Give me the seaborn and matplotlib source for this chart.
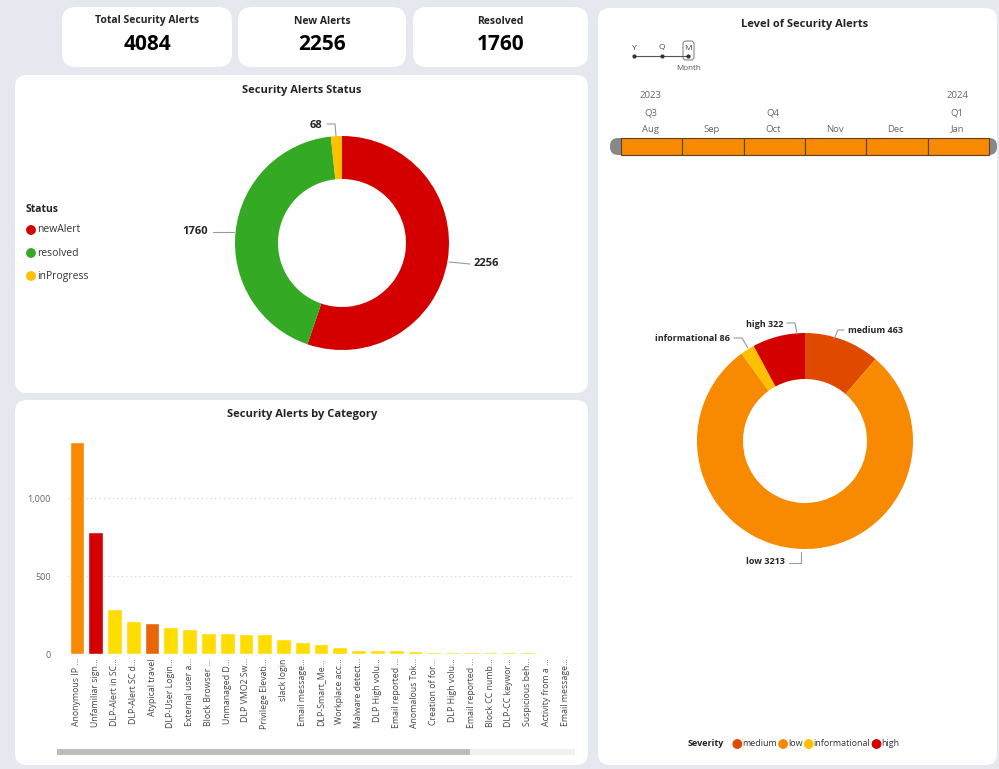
import numpy as np
import pandas as pd
import matplotlib
matplotlib.use("Agg")
import matplotlib.pyplot as plt
from matplotlib.patches import FancyBboxPatch, Rectangle, Circle
import seaborn as sns

sns.set_theme(style="white")
plt.rcParams['font.family'] = ['Open Sans', 'DejaVu Sans']

# ---------------- data ----------------
kpi_titles = ["Total Security Alerts", "New Alerts", "Resolved"]
kpi_values = [4084, 2256, 1760]

status_labels = ["newAlert", "resolved", "inProgress"]
status_values = [2256, 1760, 68]
status_colors = ["#D40000", "#34A924", "#FFC000"]

severity_labels = ["medium", "low", "informational", "high"]
severity_values = [463, 3213, 86, 322]
severity_colors = ["#E04A00", "#F78A00", "#FFC000", "#D40000"]

category_labels = ["Anonymous IP ...", "Unfamiliar sign...", "DLP-Alert in SC...", "DLP-Alert SC d...",
                   "Atypical travel", "DLP-User Login...", "External user a...", "Block Browser ...",
                   "Unmanaged D...", "DLP VMO2 Sw...", "Privilege Elevati...", "slack login",
                   "Email message...", "DLP-Smart_Me...", "Workplace acc...", "Malware detect...",
                   "DLP High volu...", "Email reported ...", "Anomalous Tok...", "Creation of for...",
                   "DLP High volu...", "Email reported ...", "Block CC numb...", "DLP-CC keywor...",
                   "Suspicious beh...", "Activity from a ...", "Email message..."]
category_counts = [1358, 782, 290, 211, 200, 173, 158, 136, 136, 128, 126, 98,
                   75, 62, 47, 28, 23, 23, 19, 13, 12, 12, 11, 10, 10, 9, 9]
category_colors = ["#F78A00", "#D40000", "#FFDD00", "#FFDD00", "#E8650A"] + ["#FFDD00"] * 22
y_ticks = [0, 500, 1000]
y_tick_labels = ["0", "500", "1,000"]

timeline_months = ["Aug", "Sep", "Oct", "Nov", "Dec", "Jan"]
timeline_quarters = ["Q3", "", "Q4", "", "", "Q1"]
timeline_years = ["2023", "", "", "", "", "2024"]

# ---------------- figure ----------------
W, H = 999, 769
fig = plt.figure(figsize=(W / 100, H / 100), dpi=100)
fig.patch.set_facecolor("#E5E8EF")

bg = fig.add_axes([0, 0, 1, 1])
bg.set_xlim(0, W)
bg.set_ylim(H, 0)
bg.axis("off")
bg.set_zorder(0)


def panel(x0, y0, x1, y1, r=12):
    bg.add_patch(FancyBboxPatch((x0, y0), x1 - x0, y1 - y0,
                                boxstyle=f"round,pad=0,rounding_size={r}",
                                fc="white", ec="none"))


def px_axes(x0, y0, x1, y1):
    return fig.add_axes([x0 / W, 1 - y1 / H, (x1 - x0) / W, (y1 - y0) / H])


DARK = "#252423"
GREY = "#666666"

# KPI cards
kpi_boxes = [(62, 7, 232, 67), (238, 7, 406, 67), (413, 7, 588, 67)]
for (x0, y0, x1, y1), t, v in zip(kpi_boxes, kpi_titles, kpi_values):
    panel(x0, y0, x1, y1, r=14)
    cx = (x0 + x1) / 2
    bg.text(cx, 21, t, ha="center", va="center", fontsize=7.5, fontweight="bold", color=DARK)
    bg.text(cx, 45, str(v), ha="center", va="center", fontsize=15, fontweight="bold", color="black")

# main panels
panel(15, 75, 588, 393)
panel(15, 400, 588, 765)
panel(598, 8, 997, 765)

# ---------------- Status donut ----------------
bg.text(302, 90, "Security Alerts Status", ha="center", va="center", fontsize=8,
        fontweight="bold", color=DARK)
bg.text(26, 209, "Status", ha="left", va="center", fontsize=7.5, fontweight="bold", color=DARK)
for i, (lab, col) in enumerate(zip(status_labels, status_colors)):
    yy = 230 + i * 23
    bg.add_patch(Circle((31, yy), 4.2, color=col))
    bg.text(37, yy, lab, ha="left", va="center", fontsize=7.5, color="#333333")

ax1 = px_axes(192, 93, 492, 393)
ax1.pie(status_values, colors=status_colors, startangle=90, counterclock=False,
        radius=1.07, wedgeprops=dict(width=0.43, edgecolor="none"))
ax1.set_xlim(-1.5, 1.5)
ax1.set_ylim(-1.5, 1.5)
ax1.set_aspect("equal")
ax1.axis("off")


def to1(x, y):  # pixel -> ax1 data (center 342,243, 100px/unit)
    return (x - 342) / 100, (243 - y) / 100


lc = "#999999"
for (lx, ly, ha), pts, val in zip(
        [(474, 264, "left"), (208, 231, "right"), (322, 125, "right")],
        [[(449, 262), (470, 264)], [(213, 232), (234, 232)], [(327, 124), (335, 124), (336, 136)]],
        status_values):
    xs, ys = zip(*[to1(*p) for p in pts])
    ax1.plot(xs, ys, color=lc, lw=0.8)
    tx, ty = to1(lx, ly)
    ax1.text(tx, ty, str(val), ha=ha, va="center", fontsize=8, fontweight="bold", color=DARK)

# ---------------- Category bars ----------------
bg.text(302, 414, "Security Alerts by Category", ha="center", va="center", fontsize=8,
        fontweight="bold", color=DARK)
ax2 = px_axes(67.6, 430, 574.5, 654)
df = pd.DataFrame({"pos": list(range(len(category_counts))), "count": category_counts})
sns.barplot(data=df, x="pos", y="count", hue="pos", palette=category_colors, legend=False,
            ax=ax2, width=0.79, saturation=1, dodge=False)
ax2.set_xlim(-0.5, len(category_counts) - 0.5)
ax2.set_ylim(0, 1436)
ax2.set_xticks(range(len(category_labels)))
ax2.set_xticklabels(category_labels, rotation=90, fontsize=6.3, color="#444444")
ax2.set_yticks(y_ticks)
ax2.set_yticklabels(y_tick_labels, fontsize=6.5, color=GREY)
ax2.tick_params(axis="both", length=0, pad=3)
ax2.tick_params(axis="y", pad=12)
ax2.set_xlabel("")
ax2.set_ylabel("")
for s in ax2.spines.values():
    s.set_visible(False)
ax2.set_facecolor("none")
for yv in y_ticks:
    ax2.axhline(yv, color="#CCCCCC", lw=0.8, ls=(0, (1, 3)), zorder=0)
# scrollbar
bg.add_patch(Rectangle((57, 749), 518, 6, fc="#F0F0F0", ec="none"))
bg.add_patch(Rectangle((57, 749), 413, 6, fc="#BDBDBD", ec="none"))

# ---------------- Right panel ----------------
bg.text(805, 25, "Level of Security Alerts", ha="center", va="center", fontsize=8,
        fontweight="bold", color=DARK)
# hierarchy icon
bg.plot([634, 688], [56, 56], color="#555555", lw=0.8)
for xx, l in zip([634, 662, 688], ["Y", "Q", "M"]):
    bg.plot(xx, 56, "o", ms=2, color="#333333")
    bg.text(xx, 48, l, ha="center", va="center", fontsize=6, color="#444444")
bg.add_patch(FancyBboxPatch((683, 41), 11, 19, boxstyle="round,pad=0,rounding_size=3",
                            fc="none", ec="#888888", lw=0.8))
bg.text(689, 69, "Month", ha="center", va="center", fontsize=5.8, color="#555555")

# timeline slider
seg_x0, seg_w = 621, 61.3
bg.add_patch(FancyBboxPatch((610, 138), 387, 17, boxstyle="round,pad=0,rounding_size=8",
                            fc="#888888", ec="none"))
for i, (m, q, yv) in enumerate(zip(timeline_months, timeline_quarters, timeline_years)):
    x = seg_x0 + i * seg_w
    bg.add_patch(Rectangle((x, 138), seg_w, 17, fc="#F78A00", ec="#5A4030", lw=0.8))
    cx = x + seg_w / 2 - 1
    bg.text(cx, 129, m, ha="center", va="center", fontsize=6.8, color=GREY)
    if q:
        bg.text(cx, 113, q, ha="center", va="center", fontsize=6.8, color=GREY)
    if yv:
        bg.text(cx, 96, yv, ha="center", va="center", fontsize=6.8, color=GREY)

# severity donut
ax3 = px_axes(655, 291, 955, 591)
ax3.pie(severity_values, colors=severity_colors, startangle=90, counterclock=False,
        radius=1.08, wedgeprops=dict(width=0.46, edgecolor="none"))
ax3.set_xlim(-1.5, 1.5)
ax3.set_ylim(-1.5, 1.5)
ax3.set_aspect("equal")
ax3.axis("off")


def to3(x, y):
    return (x - 805) / 100, (441 - y) / 100


sev_label_pos = [(848, 330, "left"), (785, 562, "right"), (730, 338, "right"), (783, 324, "right")]
sev_lines = [[(844, 330), (838, 330), (834, 339)],
             [(789, 563), (801, 563), (801, 552)],
             [(734, 338), (742, 338), (748, 348)],
             [(787, 323), (795, 323), (797, 334)]]
for (lx, ly, ha), pts, lab, val in zip(sev_label_pos, sev_lines, severity_labels, severity_values):
    xs, ys = zip(*[to3(*p) for p in pts])
    ax3.plot(xs, ys, color=lc, lw=0.8)
    tx, ty = to3(lx, ly)
    ax3.text(tx, ty, f"{lab} {val}", ha=ha, va="center", fontsize=6.5, fontweight="bold",
             color=DARK)

# severity legend (measured spacing)
renderer = fig.canvas.get_renderer()
t0 = bg.text(688, 744, "Severity", ha="left", va="center", fontsize=6.5, fontweight="bold",
             color=DARK)
ext = t0.get_window_extent(renderer)
lx = ext.x1 + 9
for lab, col in zip(severity_labels, severity_colors):
    bg.add_patch(Circle((lx + 4, 744), 4.2, color=col))
    t = bg.text(lx + 9, 744, lab, ha="left", va="center", fontsize=6.5, color="#333333")
    e = t.get_window_extent(renderer)
    lx = e.x1 + 2

fig.savefig("out.png", dpi=100, facecolor=fig.get_facecolor())
